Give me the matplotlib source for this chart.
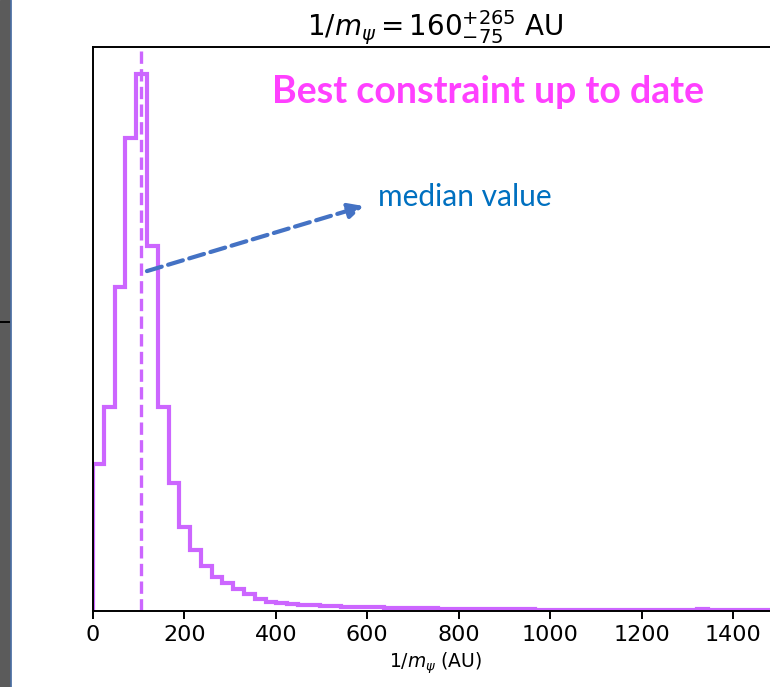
import numpy as np
import matplotlib.pyplot as plt
from matplotlib.patches import Rectangle
from matplotlib.lines import Line2D

# posterior samples binned into a histogram of 1/m_psi (AU)
bin_width = 23.6
counts = [147, 204, 324, 473, 537, 365, 204, 128, 84, 61,
          45, 34, 28, 22, 17, 12.5, 9, 8, 7, 6.5,
          6, 5.5, 5, 4.8, 4.5, 4.2, 4.0, 3.8, 3.6, 3.4,
          3.2, 3.0, 2.8, 2.7, 2.6, 2.5, 2.7, 2.3, 2.2, 2.1,
          2.0, 1.9, 1.8, 1.8, 1.7, 1.7, 1.6, 1.6, 1.5, 1.5,
          1.5, 1.4, 1.4, 1.4, 1.3, 1.3, 2.2, 1.3, 1.2, 1.2,
          1.2, 1.1, 1.1, 1.1, 1.0]
edges = np.arange(len(counts) + 1) * bin_width
median = 104
xticks = [0, 200, 400, 600, 800, 1000, 1200, 1400]

purple = '#cc66ff'

fig = plt.figure(figsize=(7.7, 6.87), dpi=100)
ax = fig.add_axes([0.1208, 0.1099, 0.8904, 0.8217])

ax.hist(edges[:-1], bins=edges, weights=counts, histtype='step',
        color=purple, lw=3.0)
ax.axvline(median, color=purple, lw=2.4, ls='--')

ax.set_xlim(0, 1500)
ax.set_xticks(xticks)
ax.set_yticks([])
ax.tick_params(axis='x', labelsize=16, length=6, width=1.4)
for s in ax.spines.values():
    s.set_linewidth(1.4)

ax.set_title(r'$1/m_\psi = 160^{+265}_{-75}$ AU', fontsize=20, pad=6)
ax.set_xlabel(r'$1/m_\psi$ (AU)', fontsize=13.5)

# annotation pointing at the median line
ax.annotate('', xy=(592, 405), xytext=(118, 340),
            arrowprops=dict(arrowstyle='-|>,head_length=0.9,head_width=0.45',
                            color='#4472c4', lw=3.0, ls='--',
                            shrinkA=0, shrinkB=0))
ax.text(623, 414, 'median value', color='#0070c0', fontsize=21.5,
        family='Lato', va='center')
ax.text(864, 519, 'Best constraint up to date', color='#ff40ff',
        fontsize=27, family='Lato', weight='bold', ha='center', va='center')

# strip of a neighbouring window on the left edge
fig.patches.append(Rectangle((0, 0), 10 / 770, 1, transform=fig.transFigure,
                             color='#5b5b5b', zorder=0))
fig.lines.append(Line2D([10.5 / 770] * 2, [0, 1], transform=fig.transFigure,
                        color='#4a6fa5', lw=1.2))
fig.lines.append(Line2D([0, 9 / 770], [1 - 322 / 687] * 2,
                        transform=fig.transFigure, color='black', lw=1.4))

fig.savefig('out.png', dpi=100)
